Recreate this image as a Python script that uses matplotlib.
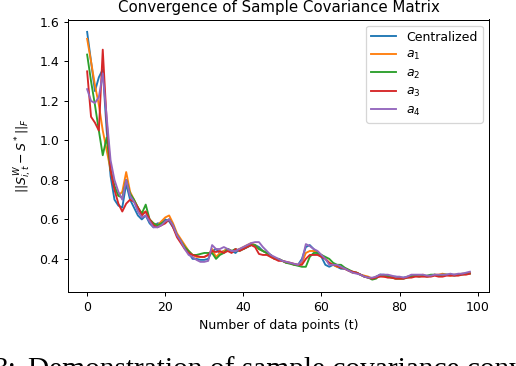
import numpy as np
import matplotlib
matplotlib.use("Agg")
from matplotlib import pyplot as plt

# number of data points on the x axis
t = np.arange(0, 99)

centralized = [1.55, 1.40, 1.25, 1.32, 1.36, 1.05, 0.82, 0.70, 0.67, 0.66,
               0.78, 0.70, 0.66, 0.62, 0.60, 0.62, 0.58, 0.56, 0.58, 0.58,
               0.60, 0.59, 0.56, 0.52, 0.49, 0.46, 0.43, 0.40, 0.40, 0.395,
               0.395, 0.40, 0.44, 0.45, 0.43, 0.44, 0.45, 0.44, 0.43, 0.45,
               0.45, 0.46, 0.47, 0.47, 0.46, 0.44, 0.43, 0.42, 0.40, 0.40,
               0.39, 0.38, 0.38, 0.37, 0.37, 0.40, 0.46, 0.47, 0.45, 0.43,
               0.41, 0.37, 0.36, 0.37, 0.36, 0.35, 0.35, 0.34, 0.33, 0.33,
               0.32, 0.31, 0.305, 0.30, 0.31, 0.32, 0.32, 0.315, 0.31, 0.31,
               0.305, 0.305, 0.31, 0.315, 0.315, 0.315, 0.315, 0.31, 0.315, 0.32,
               0.315, 0.32, 0.32, 0.32, 0.32, 0.32, 0.325, 0.325, 0.33]

a1 = [1.515, 1.40, 1.28, 1.18, 1.05, 0.95, 0.85, 0.76, 0.72, 0.74,
      0.84, 0.74, 0.70, 0.66, 0.63, 0.64, 0.60, 0.58, 0.57, 0.59,
      0.61, 0.62, 0.58, 0.53, 0.50, 0.47, 0.44, 0.42, 0.41, 0.41,
      0.41, 0.42, 0.45, 0.41, 0.43, 0.44, 0.45, 0.44, 0.44, 0.45,
      0.46, 0.47, 0.48, 0.47, 0.45, 0.44, 0.43, 0.41, 0.40, 0.40,
      0.39, 0.38, 0.38, 0.37, 0.37, 0.38, 0.43, 0.44, 0.44, 0.43,
      0.42, 0.40, 0.38, 0.37, 0.36, 0.36, 0.35, 0.34, 0.33, 0.33,
      0.32, 0.315, 0.31, 0.30, 0.31, 0.315, 0.31, 0.31, 0.305, 0.30,
      0.30, 0.30, 0.31, 0.31, 0.315, 0.315, 0.32, 0.31, 0.315, 0.32,
      0.32, 0.325, 0.32, 0.315, 0.32, 0.32, 0.325, 0.325, 0.33]

a2 = [1.435, 1.30, 1.18, 1.05, 0.925, 1.015, 0.85, 0.77, 0.72, 0.71,
      0.80, 0.73, 0.70, 0.66, 0.63, 0.675, 0.60, 0.58, 0.57, 0.58,
      0.59, 0.60, 0.57, 0.52, 0.49, 0.46, 0.44, 0.42, 0.42, 0.425,
      0.43, 0.43, 0.43, 0.40, 0.42, 0.43, 0.45, 0.44, 0.45, 0.44,
      0.45, 0.46, 0.47, 0.47, 0.45, 0.44, 0.43, 0.42, 0.40, 0.40,
      0.39, 0.38, 0.375, 0.37, 0.365, 0.36, 0.36, 0.41, 0.43, 0.43,
      0.42, 0.41, 0.40, 0.38, 0.37, 0.37, 0.355, 0.345, 0.335, 0.33,
      0.32, 0.31, 0.305, 0.295, 0.30, 0.32, 0.315, 0.31, 0.305, 0.30,
      0.30, 0.30, 0.305, 0.31, 0.315, 0.31, 0.315, 0.315, 0.32, 0.32,
      0.315, 0.32, 0.32, 0.32, 0.315, 0.32, 0.32, 0.325, 0.325]

a3 = [1.35, 1.12, 1.09, 1.05, 1.46, 1.10, 0.85, 0.75, 0.68, 0.64,
      0.68, 0.70, 0.69, 0.66, 0.62, 0.64, 0.60, 0.57, 0.56, 0.57,
      0.58, 0.60, 0.56, 0.51, 0.48, 0.45, 0.43, 0.42, 0.415, 0.41,
      0.41, 0.42, 0.44, 0.435, 0.44, 0.43, 0.44, 0.43, 0.45, 0.44,
      0.45, 0.46, 0.47, 0.46, 0.425, 0.42, 0.42, 0.41, 0.40, 0.39,
      0.39, 0.385, 0.38, 0.375, 0.37, 0.37, 0.40, 0.42, 0.42, 0.42,
      0.41, 0.40, 0.38, 0.37, 0.365, 0.355, 0.35, 0.34, 0.335, 0.33,
      0.32, 0.31, 0.305, 0.30, 0.305, 0.31, 0.31, 0.305, 0.305, 0.30,
      0.30, 0.30, 0.305, 0.305, 0.31, 0.31, 0.31, 0.31, 0.31, 0.315,
      0.31, 0.31, 0.315, 0.315, 0.315, 0.315, 0.32, 0.32, 0.325]

a4 = [1.26, 1.20, 1.19, 1.22, 1.34, 1.12, 0.90, 0.80, 0.74, 0.70,
      0.80, 0.72, 0.69, 0.64, 0.61, 0.62, 0.59, 0.56, 0.56, 0.57,
      0.59, 0.60, 0.57, 0.52, 0.49, 0.45, 0.42, 0.41, 0.395, 0.385,
      0.385, 0.39, 0.47, 0.45, 0.45, 0.46, 0.45, 0.44, 0.44, 0.45,
      0.46, 0.47, 0.48, 0.485, 0.485, 0.46, 0.44, 0.42, 0.41, 0.40,
      0.39, 0.385, 0.38, 0.375, 0.37, 0.39, 0.475, 0.465, 0.45, 0.44,
      0.42, 0.40, 0.37, 0.37, 0.37, 0.36, 0.35, 0.34, 0.33, 0.325,
      0.32, 0.31, 0.305, 0.305, 0.31, 0.32, 0.32, 0.32, 0.315, 0.31,
      0.31, 0.305, 0.31, 0.32, 0.32, 0.32, 0.32, 0.315, 0.315, 0.32,
      0.32, 0.32, 0.32, 0.325, 0.32, 0.325, 0.325, 0.33, 0.335]

labels = ["Centralized", "$a_1$", "$a_2$", "$a_3$", "$a_4$"]

# =============================================================================
W, H, DPI = 516, 366, 90
fig = plt.figure(figsize=(W / DPI, H / DPI), dpi=DPI)
ax = fig.add_axes([68 / W, 1 - 292 / H, 421 / W, 272.5 / H])

for series, lab in zip([centralized, a1, a2, a3, a4], labels):
    ax.plot(t, series, label=lab)

ax.set_title("Convergence of Sample Covariance Matrix")
ax.set_xlabel("Number of data points (t)")
ax.set_ylabel(r"$||S^{W}_{i,t} - S^*||_F$")
ax.legend(loc="upper right", labelspacing=0.35)

# caption of the paper figure, cut off at the bottom edge
fig.text(16 / W, -11 / H, "3:", family="Liberation Serif", fontsize=23.5,
         va="baseline", ha="right")
fig.text(28 / W, -11 / H, "Demonstration of sample covariance convergence",
         family="Liberation Serif", fontsize=23.5, va="baseline", ha="left")

fig.savefig("out.png", dpi=DPI)
